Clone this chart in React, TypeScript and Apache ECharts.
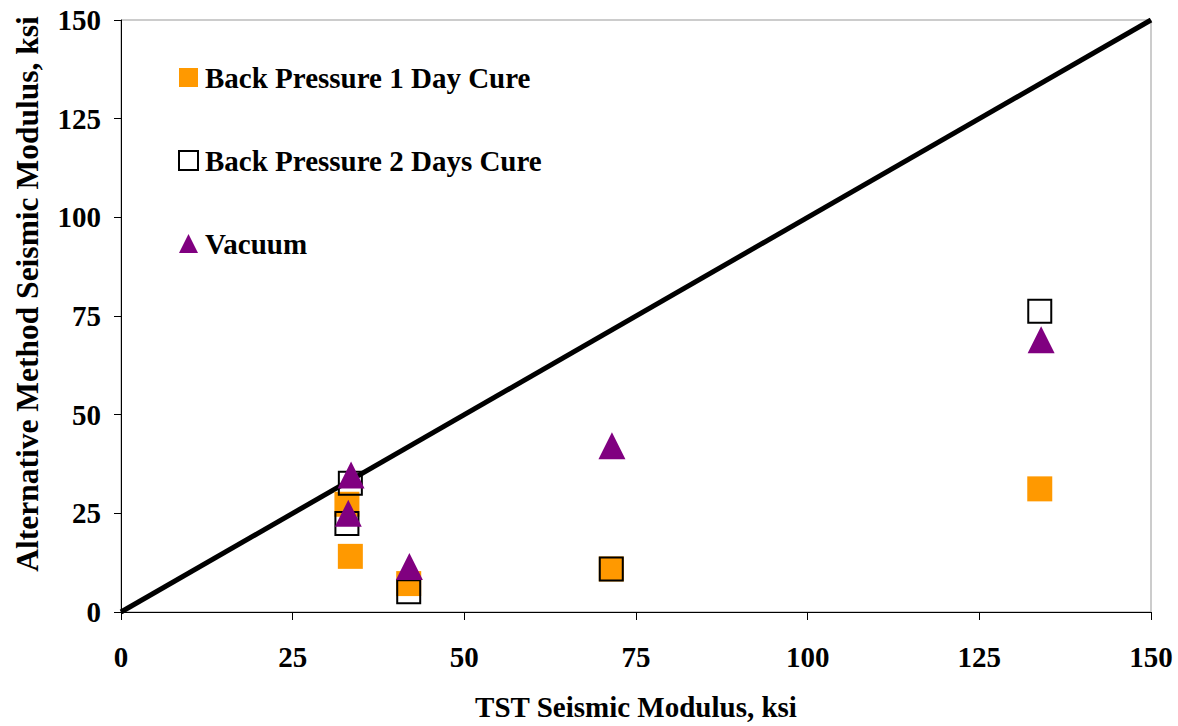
import React, { useEffect, useRef } from "react";
import * as echarts from "echarts";

const seriesNames = ["Back Pressure 1 Day Cure", "Back Pressure 2 Days Cure", "Vacuum"];
const bp1Day: [number, number][] = [
  [32.9, 27.3],
  [33.4, 14.1],
  [41.9, 7.2],
  [71.4, 10.9],
  [133.8, 31.2],
];
const bp2Days: [number, number][] = [
  [33.4, 32.6],
  [32.9, 22.4],
  [41.9, 5.1],
  [71.4, 10.9],
  [133.8, 76.2],
];
const vacuum: [number, number][] = [
  [33.5, 34.7],
  [33.1, 25.0],
  [42.0, 11.5],
  [71.5, 42.1],
  [134.0, 69.0],
];
const equalityLine: [number, number][] = [
  [0, 0],
  [150, 150],
];
const axisMin = 0;
const axisMax = 150;
const axisStep = 25;
const xTitle = "TST Seismic Modulus, ksi";
const yTitle = "Alternative Method Seismic Modulus, ksi";

const FONT = "Liberation Serif, Times New Roman, serif";

export default function App() {
  const ref = useRef<HTMLDivElement>(null);
  useEffect(() => {
    if (!ref.current) return;
    const chart = echarts.init(ref.current, undefined, { renderer: "svg" });
    const labelStyle = {
      fontFamily: FONT,
      fontWeight: "bold" as const,
      fontSize: 29,
      color: "#000",
    };
    chart.setOption({
      animation: false,
      backgroundColor: "#fff",
      grid: {
        left: 121,
        right: 27,
        top: 20,
        bottom: 114,
        show: true,
        borderColor: "#999",
        borderWidth: 1,
      },
      legend: {
        orient: "vertical",
        left: 173,
        top: 58,
        itemGap: 54,
        itemWidth: 19,
        itemHeight: 19,
        data: seriesNames,
        textStyle: { ...labelStyle, padding: [0, 0, 0, 2] },
        selectedMode: false,
      },
      xAxis: {
        type: "value",
        min: axisMin,
        max: axisMax,
        interval: axisStep,
        name: xTitle,
        nameLocation: "middle",
        nameGap: 80,
        nameTextStyle: labelStyle,
        axisLine: { show: true, lineStyle: { color: "#000", width: 1 } },
        axisTick: { show: true, inside: false, length: 8, lineStyle: { color: "#000" } },
        axisLabel: { ...labelStyle, margin: 30 },
        splitLine: { show: false },
      },
      yAxis: {
        type: "value",
        min: axisMin,
        max: axisMax,
        interval: axisStep,
        name: yTitle,
        nameLocation: "middle",
        nameGap: 78,
        nameRotate: 90,
        nameTextStyle: { ...labelStyle, fontSize: 31.5, padding: [0, 0, 0, 44] },
        axisLine: { show: true, lineStyle: { color: "#000", width: 1 } },
        axisTick: { show: true, inside: false, length: 7, lineStyle: { color: "#000" } },
        axisLabel: { ...labelStyle, margin: 20 },
        splitLine: { show: false },
      },
      series: [
        {
          name: "equality",
          type: "line",
          data: equalityLine,
          showSymbol: false,
          symbol: "none",
          lineStyle: { color: "#000", width: 5 },
          z: 1,
          silent: true,
        },
        {
          name: seriesNames[0],
          type: "scatter",
          data: bp1Day,
          symbol: "rect",
          symbolSize: 25,
          itemStyle: { color: "#FF9900", opacity: 1 },
          z: 2,
        },
        {
          name: seriesNames[1],
          type: "scatter",
          data: bp2Days,
          symbol: "rect",
          symbolSize: 23,
          itemStyle: { color: "rgba(0,0,0,0)", borderColor: "#000", borderWidth: 2, opacity: 1 },
          z: 3,
        },
        {
          name: seriesNames[2],
          type: "scatter",
          data: vacuum,
          symbol: "triangle",
          symbolSize: 27,
          itemStyle: { color: "#800080", opacity: 1 },
          z: 4,
        },
      ],
    });
    return () => chart.dispose();
  }, []);
  return <div ref={ref} style={{ width: 1178, height: 726, position: "absolute", left: 0, top: 0 }} />;
}
